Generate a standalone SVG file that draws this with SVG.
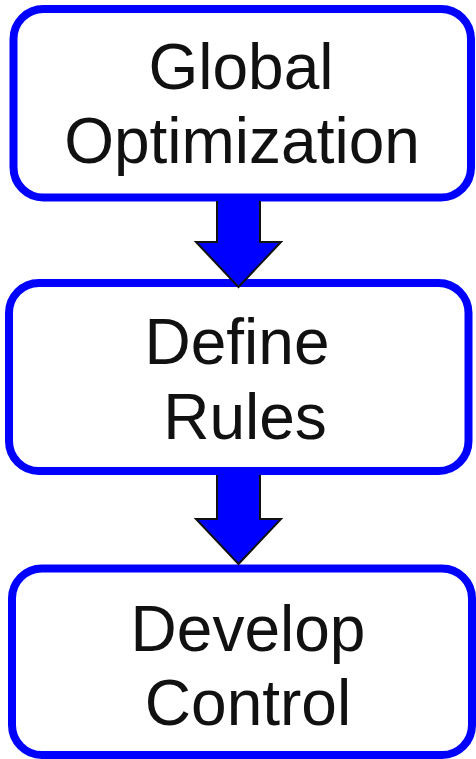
<svg xmlns="http://www.w3.org/2000/svg" width="476" height="759" viewBox="0 0 476 759">
  <style>
    .box { fill: #ffffff; stroke: #0000ff; stroke-width: 8; }
    .label { font-family: "Liberation Sans", Arial, sans-serif; font-size: 64px; fill: #111111; text-anchor: middle; }
    .arrow-fill { fill: #0000ff; stroke: none; }
    .arrow-edge { fill: none; stroke: #111111; stroke-width: 2; stroke-linejoin: miter; }
  </style>
  <rect width="476" height="759" fill="#ffffff"/>

  <g id="global-optimization">
    <rect class="box" x="13.5" y="9" width="457.5" height="188.5" rx="30" ry="30"/>
    <text class="label" x="241" y="89">Global</text>
    <text class="label" x="242" y="163">Optimization</text>
  </g>

  <g id="define-rules">
    <rect class="box" x="9" y="283" width="459.5" height="188" rx="30" ry="30"/>
    <text class="label" x="237" y="364">Define</text>
    <text class="label" x="245" y="439">Rules</text>
  </g>

  <g id="develop-control">
    <rect class="box" x="12" y="568.5" width="460" height="186.5" rx="30" ry="30"/>
    <text class="label" x="248" y="651">Develop</text>
    <text class="label" x="248" y="725">Control</text>
  </g>

  <g id="connectors">
    <g id="arrow-1">
      <polygon class="arrow-fill" points="217,198 260,198 260,242 281,242 238.5,287 196,242 217,242"/>
      <polyline class="arrow-edge" points="217,201 217,242 196,242 238.5,287 281,242 260,242 260,201"/>
    </g>
    <g id="arrow-2">
      <polygon class="arrow-fill" points="217,472 260,472 260,519 281,519 238.5,564 196,519 217,519"/>
      <polyline class="arrow-edge" points="217,475 217,519 196,519 238.5,564 281,519 260,519 260,475"/>
    </g>
  </g>
</svg>
